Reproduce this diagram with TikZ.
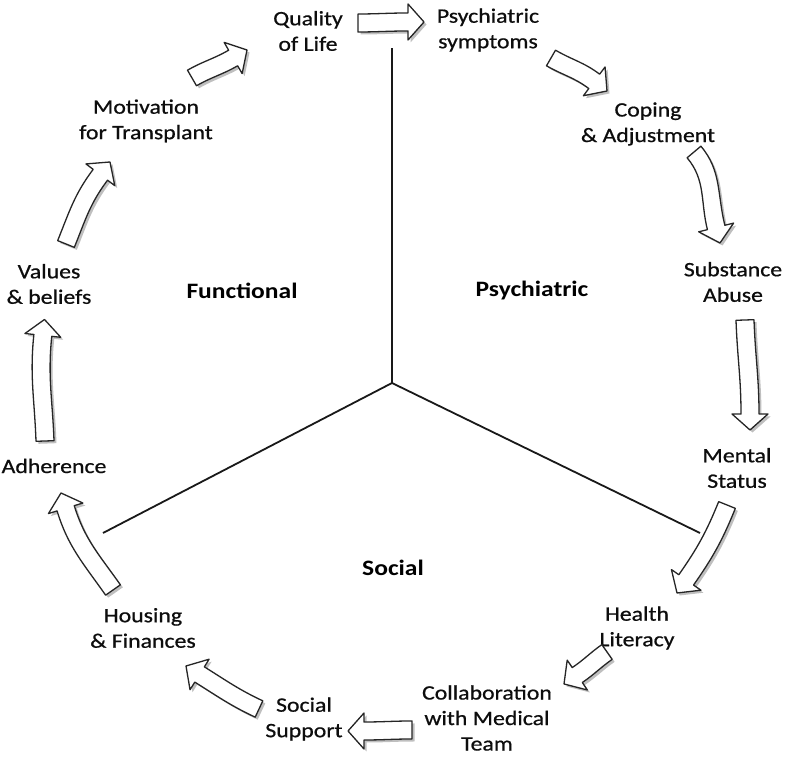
\documentclass[tikz,border=0pt]{standalone}
\usepackage{fontspec}
\setmainfont{Carlito}[FakeStretch=1.16]
\newfontfamily\lblfont{Carlito}[FakeStretch=1.16,FakeBold=0.7]
\usetikzlibrary{calc,shadows}
\tikzset{
  lbl/.style={align=center,inner sep=0pt,text=black!95,font=\lblfont\fontsize{20.5}{25.5}\selectfont},
  reg/.style={inner sep=0pt,text=black,font=\bfseries\fontsize{22}{26}\selectfont},
  axis/.style={draw=black!90,line width=1.8pt},
  barrow/.style={draw=black!85,line width=1.3pt,fill=white,line join=round,
    drop shadow={shadow xshift=2.5pt,shadow yshift=-2.5pt,fill=black,opacity=0.25}}
}
\newcommand\blockarrow[4]{%
  \pgfmathsetmacro\ba{#2}\pgfmathsetmacro\bbb{#4+180}%
  \pgfmathsetmacro\bap{#2+90}\pgfmathsetmacro\bam{#2-90}%
  \pgfmathsetmacro\bbp{#4+90}\pgfmathsetmacro\bbm{#4-90}%
  \path (#3) ++(\bbb:16) coordinate (bbase);
  \draw[barrow] ($(#1)+(\bap:9)$) to[out=\ba,in=\bbb] ($(bbase)+(\bbp:9)$)
    -- ($(bbase)+(\bbp:18)$) -- (#3) -- ($(bbase)+(\bbm:18)$) -- ($(bbase)+(\bbm:9)$)
    to[out=\bbb,in=\ba] ($(#1)+(\bam:9)$) -- cycle;
}
\begin{document}
\begin{tikzpicture}[x=1pt,y=1pt]
\fill[white] (0,0) rectangle (792,759);
\useasboundingbox (0,0) rectangle (792,759);
% axes
\coordinate (c) at (392,376);
\coordinate (ctop) at (392,711);
\coordinate (cleft) at (103,226);
\coordinate (cright) at (700,226);
\draw[axis] (c) -- (ctop);
\draw[axis] (c) -- (cleft);
\draw[axis] (c) -- (cright);
% labels
\node[lbl] (q) at (308,728) {Quality\\of Life};
\node[lbl] (ps) at (488,729) {Psychiatric\\symptoms};
\node[lbl] (cop) at (648,635) {Coping\\\& Adjustment};
\node[lbl] (sub) at (733,477) {Substance\\Abuse};
\node[lbl] (men) at (737,291) {Mental\\Status};
\node[lbl] (hea) at (637,131) {Health\\Literacy};
\node[lbl] (col) at (487,41) {Collaboration\\with Medical\\Team};
\node[lbl] (soc) at (304,40) {Social\\Support};
\node[lbl] (hou) at (143,131) {Housing\\\& Finances};
\node[lbl] (adh) at (54,293) {Adherence};
\node[lbl] (val) at (49,475) {Values\\\& beliefs};
\node[lbl] (mot) at (146,638) {Motivation\\for Transplant};
\node[reg] (fun) at (242,468) {Functional};
\node[reg] (psy) at (532,468) {Psychiatric};
\node[reg] (socr) at (393,191) {Social};
% arrow ends
\coordinate (a1t) at (358,736); \coordinate (a1h) at (424,737);
\coordinate (a2t) at (551,701); \coordinate (a2h) at (607,668);
\coordinate (a3t) at (694,607); \coordinate (a3h) at (720,516);
\coordinate (a4t) at (745,439); \coordinate (a4h) at (750,329);
\coordinate (a5t) at (727,254); \coordinate (a5h) at (677,166);
\coordinate (a6t) at (607,107); \coordinate (a6h) at (564,75);
\coordinate (a7t) at (412,29);  \coordinate (a7h) at (348,28);
\coordinate (a8t) at (259,50);  \coordinate (a8h) at (186,93);
\coordinate (a9t) at (113,169); \coordinate (a9h) at (61,266);
\coordinate (a10t) at (45,318); \coordinate (a10h) at (44.5,439.5);
\coordinate (a11t) at (66,515); \coordinate (a11h) at (110,597);
\coordinate (a12t) at (192,681); \coordinate (a12h) at (247,709);
\blockarrow{a1t}{0}{a1h}{0}
\blockarrow{a2t}{-30}{a2h}{-37}
\blockarrow{a3t}{-50}{a3h}{-76}
\blockarrow{a4t}{-88}{a4h}{-90}
\blockarrow{a5t}{-112}{a5h}{-125}
\blockarrow{a6t}{-145}{a6h}{-146}
\blockarrow{a7t}{180}{a7h}{180}
\blockarrow{a8t}{155}{a8h}{148}
\blockarrow{a9t}{125}{a9h}{107}
\blockarrow{a10t}{92}{a10h}{84}
\blockarrow{a11t}{68}{a11h}{53}
\blockarrow{a12t}{30}{a12h}{30}
\end{tikzpicture}
\end{document}
